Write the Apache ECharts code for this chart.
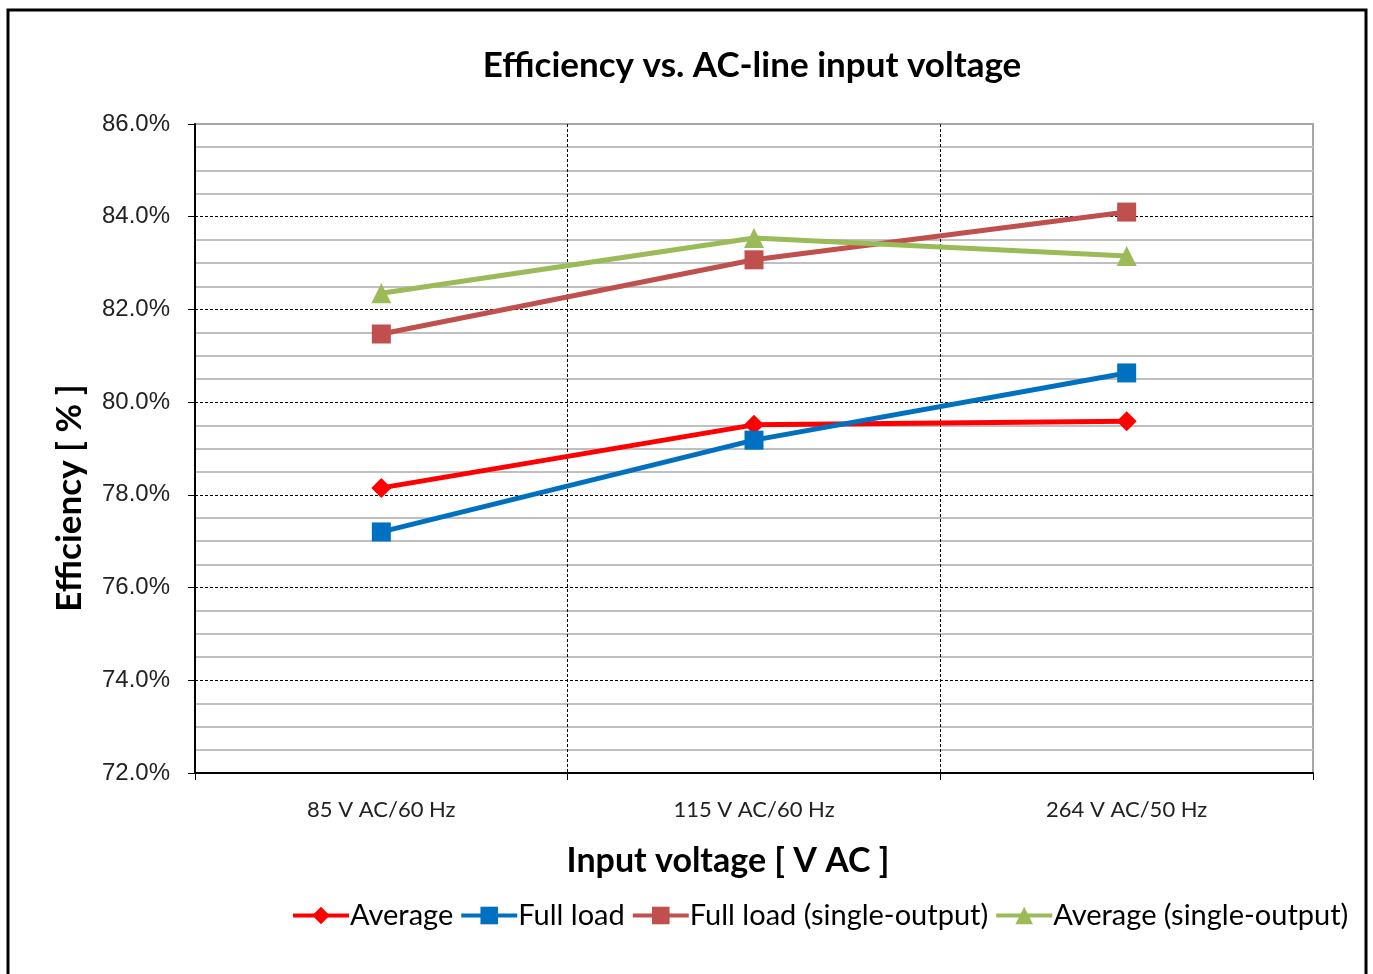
<!DOCTYPE html>
<html>
<head>
<meta charset="utf-8">
<script src="https://cdn.jsdelivr.net/npm/echarts@6/dist/echarts.min.js"></script>
<style>
  html, body { margin: 0; padding: 0; background: #fff; }
  #chart { width: 1373px; height: 974px; }
</style>
</head>
<body>
<div id="chart"></div>
<script>
const categories = ['85 V AC/60 Hz', '115 V AC/60 Hz', '264 V AC/50 Hz']
const average = [78.15, 79.51, 79.59]
const fullLoad = [77.2, 79.18, 80.63]
const fullLoadSingle = [81.47, 83.07, 84.1]
const averageSingle = [82.35, 83.54, 83.15]

const txtFont = 'Lato, "Open Sans", sans-serif'

var myChart = echarts.init(document.getElementById('chart'))

const mkSeries = (name, data, color, symbol, size) => ({
    name: name,
    type: 'line',
    data: data,
    symbol: symbol,
    symbolSize: size,
    itemStyle: { color: color },
    lineStyle: { color: color, width: 5 },
    emphasis: { disabled: true }
})

var option = {
    animation: false,
    title: {
        text: 'Efficiency vs. AC-line input voltage',
        left: 747,
        top: 43,
        textAlign: 'center',
        textStyle: { fontFamily: txtFont, fontWeight: 'bold', fontSize: 35, color: '#000' }
    },
    legend: {
        left: 286,
        top: 896,
        itemWidth: 56,
        itemHeight: 22,
        itemGap: 6,
        lineStyle: { width: 4 },
        textStyle: { fontFamily: txtFont, fontSize: 29, color: '#000', padding: [0, 0, 0, -4] },
        data: ['Average', 'Full load', 'Full load (single-output)', 'Average (single-output)']
    },
    grid: {
        left: 195,
        right: 60,
        top: 124,
        bottom: 201,
        show: true,
        borderColor: '#a6a6a6',
        borderWidth: 2
    },
    xAxis: {
        type: 'category',
        data: categories,
        boundaryGap: true,
        axisLine: { lineStyle: { color: '#000', width: 2 } },
        axisTick: { show: true, length: 7, lineStyle: { color: '#000', width: 1 } },
        axisLabel: { fontFamily: txtFont, fontSize: 22, color: '#222', margin: 26 },
        splitLine: { show: true, showMinLine: false, showMaxLine: false, lineStyle: { color: '#000', type: [3, 2], width: 1 } }
    },
    yAxis: {
        type: 'value',
        min: 72,
        max: 86,
        interval: 2,
        axisLine: { show: true, lineStyle: { color: '#000', width: 2 } },
        axisTick: { show: true, length: 7, lineStyle: { color: '#000', width: 1 } },
        axisLabel: {
            fontFamily: '"Liberation Sans", Arial, sans-serif',
            fontSize: 24,
            color: '#222',
            margin: 25,
            formatter: v => v.toFixed(1) + '%'
        },
        splitLine: { show: true, showMaxLine: false, lineStyle: { color: '#000', type: [3, 2], width: 1 } },
        minorTick: { show: false, splitNumber: 4 },
        minorSplitLine: { show: true, lineStyle: { color: '#bfbfbf', width: 2 } }
    },
    graphic: [
        {
            type: 'text',
            x: 70,
            y: 498,
            rotation: Math.PI / 2,
            style: {
                text: 'Efficiency [ % ]',
                fontFamily: txtFont,
                fontWeight: 'bold',
                fontSize: 35,
                fill: '#000',
                align: 'center',
                verticalAlign: 'middle'
            }
        },
        {
            type: 'text',
            x: 728,
            y: 861,
            style: {
                text: 'Input voltage [ V AC ]',
                fontFamily: txtFont,
                fontWeight: 'bold',
                fontSize: 34,
                fill: '#000',
                align: 'center',
                verticalAlign: 'middle'
            }
        },
        {
            type: 'rect',
            shape: { x: 8, y: 10, width: 1358, height: 990 },
            style: { fill: null, stroke: '#000', lineWidth: 3 },
            silent: true
        }
    ],
    series: [
        mkSeries('Average', average, '#ff0000', 'diamond', 20),
        mkSeries('Full load', fullLoad, '#0070c0', 'rect', 19),
        mkSeries('Full load (single-output)', fullLoadSingle, '#c0504d', 'rect', 19),
        mkSeries('Average (single-output)', averageSingle, '#9bbb59', 'triangle', 20)
    ]
}

myChart.setOption(option)
</script>
</body>
</html>
